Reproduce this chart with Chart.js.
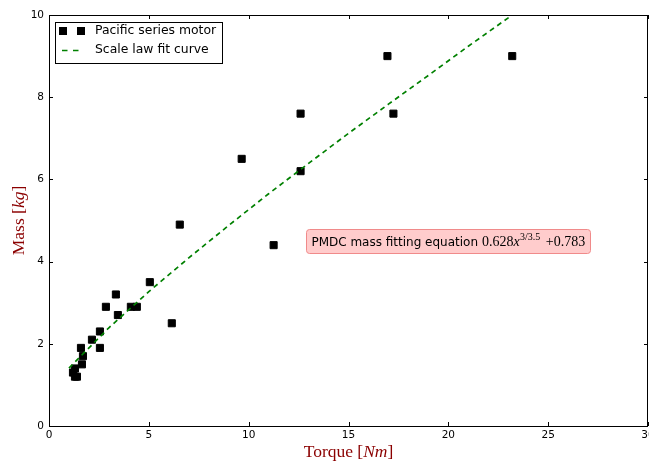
<!DOCTYPE html>
<html><head><meta charset="utf-8">
<script src="https://cdn.jsdelivr.net/npm/chart.js@4/dist/chart.umd.min.js"></script>
<style>html,body{margin:0;padding:0;background:#fff;overflow:hidden}</style>
</head><body>
<canvas id="c" width="649" height="463" style="display:block;width:649px;height:463px"></canvas>
<script>
// ---- data ----
const torque = [1.2, 1.3, 1.3, 1.4, 1.65, 1.7, 1.6, 2.15, 2.55, 2.55, 2.85, 3.35, 3.45, 4.1, 4.4, 5.05, 6.15, 6.55, 9.65, 11.25, 12.6, 12.6, 16.95, 17.25, 23.2];
const mass   = [1.3, 1.4, 1.2, 1.2, 1.5, 1.7, 1.9, 2.1, 1.9, 2.3, 2.9, 3.2, 2.7, 2.9, 2.9, 3.5, 2.5, 4.9, 6.5, 4.4, 6.2, 7.6, 9.0, 7.6, 9.0];
const fitTorque = [1, 3, 5, 7, 9, 11, 13, 15, 17, 19, 21, 23, 24];
const fitMass   = [1.41, 2.39, 3.27, 4.09, 4.88, 5.65, 6.39, 7.12, 7.83, 8.53, 9.24, 9.93, 10.28];
const xTickValues = [0, 5, 10, 15, 20, 25, 30];
const yTickValues = [0, 2, 4, 6, 8, 10];
const seriesNames = ['Pacific series motor', 'Scale law fit curve'];
const annotationText = 'PMDC mass fitting equation ';
const annotationAt = [20, 4.5];

const SANS = '"DejaVu Sans", sans-serif';
const SERIF = '"Liberation Serif", "DejaVu Serif", serif';
const TITLE_COLOR = '#8b0000';
const TICK_FONT = '10.5px ' + SANS;

function drawRich(ctx, parts, x, y, align) {
  let total = 0;
  parts.forEach(p => { ctx.font = p.font; p.w = ctx.measureText(p.t).width + (p.gap || 0); total += p.w; });
  let cx = align === 'center' ? x - total / 2 : x;
  parts.forEach(p => { ctx.font = p.font; ctx.fillText(p.t, cx, y + (p.dy || 0)); cx += p.w; });
  return total;
}

const framePlugin = {
  id: 'frame',
  afterDatasetsDraw(chart) {
    const ctx = chart.ctx;
    const a = chart.chartArea;
    const xs = chart.scales.x, ys = chart.scales.y;
    ctx.save();
    // spines
    ctx.strokeStyle = '#000';
    ctx.lineWidth = 1;
    ctx.strokeRect(Math.round(a.left) + 0.5, Math.round(a.top) + 0.5, Math.round(a.right - a.left) - 1, Math.round(a.bottom - a.top));
    // inward ticks on all sides
    const tl = 4;
    ctx.beginPath();
    xTickValues.forEach(v => {
      const px = Math.round(xs.getPixelForValue(v)) + 0.5;
      ctx.moveTo(px, a.bottom); ctx.lineTo(px, a.bottom - tl);
      ctx.moveTo(px, a.top); ctx.lineTo(px, a.top + tl);
    });
    yTickValues.forEach(v => {
      const py = Math.round(ys.getPixelForValue(v)) + 0.5;
      ctx.moveTo(a.left, py); ctx.lineTo(a.left + tl, py);
      ctx.moveTo(a.right, py); ctx.lineTo(a.right - tl, py);
    });
    ctx.stroke();

    // x tick labels
    ctx.fillStyle = '#000';
    ctx.font = TICK_FONT;
    ctx.textAlign = 'center';
    ctx.textBaseline = 'top';
    xTickValues.forEach(v => ctx.fillText(String(v), xs.getPixelForValue(v), a.bottom + 4));

    // legend
    const lx = 55.5, ly = 22.5, lw = 167, lh = 41;
    ctx.fillStyle = '#fff';
    ctx.fillRect(lx, ly, lw, lh);
    ctx.strokeStyle = '#000';
    ctx.strokeRect(lx, ly, lw, lh);
    const ds0 = chart.data.datasets[0], ds1 = chart.data.datasets[1];
    ctx.fillStyle = ds0.backgroundColor;
    [63, 81].forEach(cx => ctx.fillRect(cx - 4, 31 - 4, 8, 8));
    ctx.strokeStyle = ds1.borderColor;
    ctx.lineWidth = ds1.borderWidth;
    ctx.beginPath();
    ctx.moveTo(62, 50.5); ctx.lineTo(67.5, 50.5);
    ctx.moveTo(73, 50.5); ctx.lineTo(78.5, 50.5);
    ctx.stroke();
    ctx.fillStyle = '#000';
    ctx.font = '12.4px ' + SANS;
    ctx.textBaseline = 'middle';
    ctx.textAlign = 'left';
    ctx.fillText(ds0.label, 95, 31);
    ctx.fillText(ds1.label, 95, 50);

    // annotation box
    const cxp = xs.getPixelForValue(annotationAt[0]);
    const cyp = ys.getPixelForValue(annotationAt[1]);
    ctx.textBaseline = 'alphabetic';
    const parts = [
      {t: annotationText, font: '12px ' + SANS},
      {t: '0.628', font: '14px ' + SERIF},
      {t: 'x', font: 'italic 14px ' + SERIF, gap: 0.5},
      {t: '3/3.5', font: '10px ' + SERIF, dy: -6, gap: 2},
      {t: ' +0.783', font: '14px ' + SERIF}
    ];
    let total = 0;
    parts.forEach(p => { ctx.font = p.font; total += ctx.measureText(p.t).width + (p.gap || 0); });
    const bx = Math.round(cxp - total / 2 - 5) + 0.5, bw = Math.round(total + 10);
    const by = Math.round(cyp - 12) + 0.5, bh = 24;
    ctx.beginPath();
    ctx.roundRect(bx, by, bw, bh, 3);
    ctx.fillStyle = '#ffcccc';
    ctx.fill();
    ctx.strokeStyle = '#f08a8a';
    ctx.lineWidth = 1;
    ctx.stroke();
    ctx.fillStyle = '#000';
    drawRich(ctx, parts, cxp, cyp + 4.5, 'center');

    // axis titles
    ctx.fillStyle = TITLE_COLOR;
    ctx.textBaseline = 'alphabetic';
    const xt = [
      {t: 'Torque [', font: '17.5px ' + SERIF},
      {t: 'Nm', font: 'italic 17.5px ' + SERIF},
      {t: ']', font: '17.5px ' + SERIF}
    ];
    drawRich(ctx, xt, (a.left + a.right) / 2, 457, 'center');
    ctx.translate(24, (a.top + a.bottom) / 2);
    ctx.rotate(-Math.PI / 2);
    const yt = [
      {t: 'Mass [', font: '17.5px ' + SERIF},
      {t: 'kg', font: 'italic 17.5px ' + SERIF},
      {t: ']', font: '17.5px ' + SERIF}
    ];
    drawRich(ctx, yt, 0, 0, 'center');
    ctx.restore();
  }
};

new Chart(document.getElementById('c'), {
  type: 'scatter',
  data: {
    datasets: [
      {
        label: seriesNames[0],
        data: torque.map((t, i) => ({x: t, y: mass[i]})),
        pointStyle: 'rect',
        pointRadius: 5,
        pointHoverRadius: 5,
        borderWidth: 1,
        backgroundColor: '#000',
        borderColor: '#000',
        order: 1
      },
      {
        label: seriesNames[1],
        data: fitTorque.map((t, i) => ({x: t, y: fitMass[i]})),
        showLine: true,
        borderColor: '#008000',
        borderWidth: 1.7,
        borderDash: [5, 4],
        pointRadius: 0,
        pointHoverRadius: 0,
        fill: false,
        tension: 0,
        order: 0
      }
    ]
  },
  options: {
    responsive: false,
    animation: false,
    layout: {autoPadding: false, padding: {top: 15, right: 1, left: 0, bottom: 0}},
    plugins: {legend: {display: false}, tooltip: {enabled: false}},
    scales: {
      x: {
        type: 'linear', min: 0, max: 30,
        afterBuildTicks(s) { s.ticks = xTickValues.map(v => ({value: v})); },
        ticks: {display: false},
        grid: {display: false, drawTicks: false},
        border: {display: false},
        afterFit(s) { s.height = 37; s.paddingLeft = 0; s.paddingRight = 0; }
      },
      y: {
        type: 'linear', min: 0, max: 10,
        afterBuildTicks(s) { s.ticks = yTickValues.map(v => ({value: v})); },
        ticks: {font: {family: 'DejaVu Sans', size: 10.5}, color: '#000', padding: 5, autoSkip: false},
        grid: {display: false, drawTicks: false},
        border: {display: false},
        afterFit(s) { s.width = 49; s.paddingTop = 0; s.paddingBottom = 0; }
      }
    }
  },
  plugins: [framePlugin]
});
</script>
</body></html>
